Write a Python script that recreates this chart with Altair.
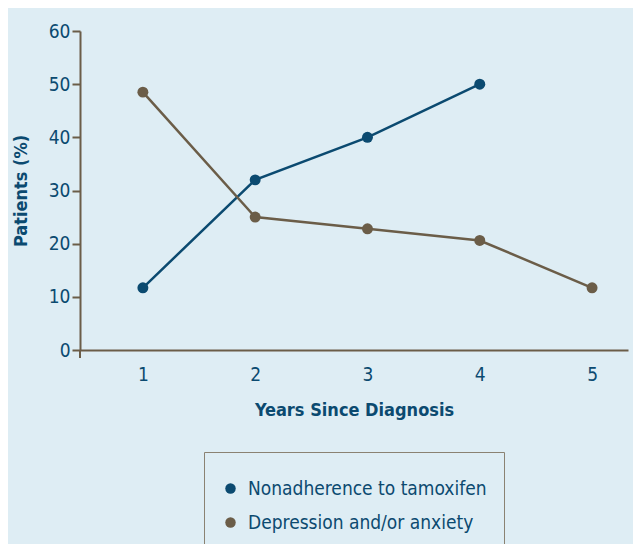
import altair as alt
import pandas as pd

years = [1, 2, 3, 4, 5]
nonadherence = [11.7, 32.0, 40.0, 50.0]
depression = [48.5, 25.0, 22.8, 20.6, 11.7]
series_names = ["Nonadherence to tamoxifen", "Depression and/or anxiety"]
colors = ["#0b4a70", "#6b5d48"]

rows = []
for y, v in zip(years, nonadherence):
    rows.append({"Year": y, "Value": v, "Series": series_names[0]})
for y, v in zip(years, depression):
    rows.append({"Year": y, "Value": v, "Series": series_names[1]})
df = pd.DataFrame(rows)

FONT = "DejaVu Sans Condensed, Liberation Sans Narrow, Noto Sans"
NAVY = "#0b4a70"
AXISC = "#6b5d48"
BG = "#deedf4"

W, H = 548, 319

color = alt.Color(
    "Series:N",
    scale=alt.Scale(domain=series_names, range=colors),
    sort=series_names,
    legend=alt.Legend(
        title=" ",
        titleFontSize=6,
        titlePadding=4,
        orient="none",
        legendX=124,
        legendY=421,
        direction="vertical",
        symbolType="circle",
        symbolSize=110,
        symbolStrokeWidth=0,
        labelFont=FONT,
        labelFontSize=19,
        labelColor=NAVY,
        labelOffset=8,
        rowPadding=14,
        padding=17,
        strokeColor="#8a8272",
        fillColor=BG,
        labelLimit=400,
    ),
)

x = alt.X(
    "Year:Q",
    scale=alt.Scale(domain=[0.44, 5.32], nice=False, zero=False),
    axis=alt.Axis(
        values=years,
        format="d",
        title="Years Since Diagnosis",
        ticks=False,
        grid=False,
        labelPadding=15,
        titlePadding=17,
    ),
)
y = alt.Y(
    "Value:Q",
    scale=alt.Scale(domain=[0, 60], nice=False),
    axis=alt.Axis(
        values=[0, 10, 20, 30, 40, 50, 60],
        title="Patients (%)",
        tickSize=8,
        grid=False,
        labelPadding=2,
        titlePadding=18,
    ),
)

base = alt.Chart(df).encode(x=x, y=y, color=color)
lines = base.mark_line(strokeWidth=2.5)
points = base.mark_point(filled=True, size=120, opacity=1)

yext = alt.Chart(pd.DataFrame({"a": [0]})).mark_rule(color=AXISC, strokeWidth=2).encode(
    x=alt.value(0), y=alt.value(H), y2=alt.value(H + 8)
)

chart = (
    alt.layer(lines, points, yext)
    .properties(
        width=W,
        height=H,
        autosize=alt.AutoSizeParams(type="none"),
        padding={"left": 72, "top": 23, "right": 5, "bottom": 194},
        background=BG,
    )
    .configure_view(stroke=None)
    .configure_axis(
        domainColor=AXISC,
        domainWidth=2,
        tickColor=AXISC,
        tickWidth=2,
        labelColor=NAVY,
        titleColor=NAVY,
        labelFont=FONT,
        titleFont=FONT,
        labelFontSize=19,
        titleFontSize=18,
        titleFontWeight="bold",
    )
)

chart.save("out.html", embed_options={"renderer": "svg", "actions": False})
